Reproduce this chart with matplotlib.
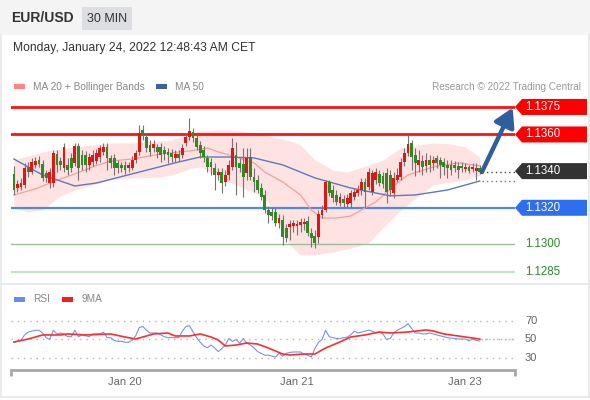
import matplotlib
matplotlib.use('Agg')
import matplotlib.pyplot as plt
from matplotlib.patches import Rectangle, Polygon
from matplotlib.lines import Line2D
import matplotlib.transforms as mtransforms
import numpy as np

plt.rcParams['font.family'] = ['Liberation Sans', 'DejaVu Sans']

# ---------------- data ----------------
opens = [1.13385, 1.13308, 1.13314, 1.13325, 1.13423, 1.13395, 1.13434, 1.13461, 1.13439, 1.13390,
         1.13335, 1.13335, 1.13494, 1.13455, 1.13417, 1.13434, 1.13472, 1.13445, 1.13537, 1.13488,
         1.13488, 1.13434, 1.13450, 1.13455, 1.13477, 1.13505, 1.13532, 1.13472, 1.13472, 1.13445,
         1.13434, 1.13434, 1.13417, 1.13417, 1.13461, 1.13505, 1.13625, 1.13586, 1.13543, 1.13526,
         1.13532, 1.13532, 1.13515, 1.13505, 1.13499, 1.13472, 1.13494, 1.13488, 1.13554, 1.13586,
         1.13614, 1.13581, 1.13543, 1.13515, 1.13472, 1.13450, 1.13417, 1.13379, 1.13395, 1.13341,
         1.13379, 1.13423, 1.13488, 1.13445, 1.13439, 1.13390, 1.13477, 1.13368, 1.13352, 1.13308,
         1.13270, 1.13188, 1.13177, 1.13177, 1.13117, 1.13134, 1.13090, 1.13095, 1.13101, 1.13101,
         1.13106, 1.13112, 1.13128, 1.13063, 1.13046, 1.13041, 1.13161, 1.13188, 1.13341, 1.13297,
         1.13270, 1.13226, 1.13248, 1.13221, 1.13226, 1.13259, 1.13281, 1.13297, 1.13341, 1.13314,
         1.13286, 1.13352, 1.13385, 1.13374, 1.13390, 1.13379, 1.13281, 1.13352, 1.13368, 1.13450,
         1.13499, 1.13554, 1.13488, 1.13434, 1.13455, 1.13428, 1.13461, 1.13445, 1.13472, 1.13461,
         1.13450, 1.13434, 1.13434, 1.13434, 1.13428, 1.13428, 1.13412, 1.13423, 1.13412, 1.13401,
         1.13417]
closes = [1.13297, 1.13330, 1.13335, 1.13417, 1.13395, 1.13450, 1.13455, 1.13439, 1.13363, 1.13363,
          1.13395, 1.13499, 1.13434, 1.13434, 1.13532, 1.13406, 1.13417, 1.13537, 1.13417, 1.13434,
          1.13434, 1.13477, 1.13488, 1.13499, 1.13526, 1.13532, 1.13472, 1.13445, 1.13417, 1.13417,
          1.13417, 1.13406, 1.13434, 1.13461, 1.13499, 1.13608, 1.13597, 1.13526, 1.13505, 1.13548,
          1.13505, 1.13488, 1.13494, 1.13488, 1.13477, 1.13494, 1.13472, 1.13526, 1.13586, 1.13619,
          1.13581, 1.13532, 1.13499, 1.13477, 1.13423, 1.13423, 1.13379, 1.13395, 1.13335, 1.13379,
          1.13434, 1.13526, 1.13423, 1.13417, 1.13368, 1.13472, 1.13368, 1.13341, 1.13297, 1.13259,
          1.13188, 1.13161, 1.13155, 1.13117, 1.13144, 1.13041, 1.13035, 1.13112, 1.13117, 1.13112,
          1.13123, 1.13123, 1.13063, 1.13035, 1.13008, 1.13166, 1.13188, 1.13341, 1.13281, 1.13254,
          1.13232, 1.13259, 1.13226, 1.13254, 1.13281, 1.13286, 1.13297, 1.13341, 1.13286, 1.13395,
          1.13390, 1.13395, 1.13335, 1.13330, 1.13286, 1.13297, 1.13363, 1.13379, 1.13450, 1.13499,
          1.13548, 1.13477, 1.13445, 1.13461, 1.13423, 1.13461, 1.13434, 1.13461, 1.13445, 1.13434,
          1.13423, 1.13417, 1.13406, 1.13417, 1.13406, 1.13417, 1.13423, 1.13401, 1.13423, 1.13417,
          1.13395]
highs = [1.13428, 1.13352, 1.13363, 1.13445, 1.13450, 1.13472, 1.13477, 1.13483, 1.13461, 1.13406,
         1.13417, 1.13515, 1.13515, 1.13477, 1.13554, 1.13472, 1.13499, 1.13554, 1.13554, 1.13515,
         1.13510, 1.13499, 1.13515, 1.13521, 1.13543, 1.13554, 1.13554, 1.13488, 1.13494, 1.13461,
         1.13450, 1.13455, 1.13450, 1.13483, 1.13515, 1.13652, 1.13652, 1.13608, 1.13570, 1.13570,
         1.13548, 1.13554, 1.13537, 1.13526, 1.13521, 1.13515, 1.13515, 1.13548, 1.13608, 1.13690,
         1.13636, 1.13603, 1.13565, 1.13537, 1.13488, 1.13472, 1.13445, 1.13417, 1.13417, 1.13406,
         1.13461, 1.13581, 1.13559, 1.13472, 1.13526, 1.13526, 1.13526, 1.13417, 1.13379, 1.13335,
         1.13297, 1.13210, 1.13199, 1.13199, 1.13166, 1.13161, 1.13112, 1.13134, 1.13134, 1.13134,
         1.13144, 1.13144, 1.13155, 1.13090, 1.13079, 1.13188, 1.13215, 1.13352, 1.13352, 1.13325,
         1.13297, 1.13281, 1.13270, 1.13275, 1.13297, 1.13308, 1.13325, 1.13363, 1.13363, 1.13417,
         1.13406, 1.13417, 1.13406, 1.13395, 1.13417, 1.13406, 1.13395, 1.13417, 1.13472, 1.13526,
         1.13597, 1.13570, 1.13526, 1.13515, 1.13488, 1.13499, 1.13488, 1.13483, 1.13488, 1.13477,
         1.13472, 1.13461, 1.13461, 1.13455, 1.13450, 1.13450, 1.13445, 1.13434, 1.13445, 1.13445,
         1.13434]
lows = [1.13270, 1.13286, 1.13297, 1.13308, 1.13368, 1.13385, 1.13417, 1.13423, 1.13346, 1.13341,
        1.13308, 1.13314, 1.13395, 1.13406, 1.13395, 1.13379, 1.13395, 1.13428, 1.13352, 1.13406,
        1.13395, 1.13406, 1.13428, 1.13439, 1.13450, 1.13488, 1.13406, 1.13417, 1.13379, 1.13390,
        1.13395, 1.13385, 1.13395, 1.13406, 1.13445, 1.13488, 1.13570, 1.13505, 1.13483, 1.13505,
        1.13472, 1.13450, 1.13461, 1.13445, 1.13450, 1.13450, 1.13455, 1.13472, 1.13537, 1.13570,
        1.13559, 1.13515, 1.13472, 1.13450, 1.13395, 1.13379, 1.13297, 1.13352, 1.13281, 1.13319,
        1.13352, 1.13406, 1.13270, 1.13395, 1.13259, 1.13352, 1.13352, 1.13286, 1.13281, 1.13243,
        1.13172, 1.13117, 1.13134, 1.13101, 1.13090, 1.12997, 1.13014, 1.13025, 1.13068, 1.13052,
        1.13068, 1.13079, 1.13046, 1.12986, 1.12981, 1.13008, 1.13144, 1.13177, 1.13265, 1.13232,
        1.13215, 1.13210, 1.13205, 1.13205, 1.13205, 1.13243, 1.13265, 1.13270, 1.13199, 1.13297,
        1.13270, 1.13330, 1.13319, 1.13308, 1.13226, 1.13265, 1.13254, 1.13341, 1.13352, 1.13428,
        1.13483, 1.13406, 1.13374, 1.13395, 1.13379, 1.13395, 1.13395, 1.13406, 1.13417, 1.13363,
        1.13379, 1.13363, 1.13379, 1.13395, 1.13363, 1.13395, 1.13395, 1.13390, 1.13395, 1.13352,
        1.13385]

ma20_idx = [0, 6, 10, 17, 22, 27, 33, 41, 49, 54, 57, 62, 67, 70, 75, 80, 83, 86, 90, 94, 97,
            101, 106, 110, 117, 124, 130]
ma20_val = [1.13270, 1.13303, 1.13335, 1.13385, 1.13423, 1.13455, 1.13466, 1.13494, 1.13510, 1.13526,
            1.13505, 1.13477, 1.13445, 1.13395, 1.13341, 1.13270, 1.13188, 1.13144, 1.13144, 1.13155,
            1.13188, 1.13232, 1.13319, 1.13379, 1.13423, 1.13445, 1.13428]
ma50_idx = [0, 8, 17, 23, 33, 46, 52, 60, 67, 75, 84, 94, 105, 112, 121, 130]
ma50_val = [1.13466, 1.13379, 1.13319, 1.13335, 1.13385, 1.13450, 1.13477, 1.13477, 1.13472, 1.13434,
            1.13363, 1.13308, 1.13265, 1.13270, 1.13297, 1.13346]
band_idx = [0, 4, 8, 13, 17, 22, 27, 33, 41, 44, 48, 50, 52, 57, 60, 67, 71, 75, 77, 80, 84, 89,
            93, 99, 103, 108, 113, 117, 122, 126, 130]
band_upper = [1.13461, 1.13483, 1.13505, 1.13521, 1.13532, 1.13543, 1.13554, 1.13554, 1.13565, 1.13570,
              1.13597, 1.13614, 1.13619, 1.13625, 1.13625, 1.13608, 1.13592, 1.13575, 1.13565, 1.13543,
              1.13461, 1.13406, 1.13395, 1.13434, 1.13461, 1.13526, 1.13543, 1.13554, 1.13548, 1.13532,
              1.13477]
band_lower = [1.13199, 1.13177, 1.13188, 1.13265, 1.13297, 1.13325, 1.13352, 1.13363, 1.13368, 1.13379,
              1.13406, 1.13417, 1.13423, 1.13374, 1.13341, 1.13286, 1.13232, 1.13079, 1.12997, 1.12943,
              1.12943, 1.12959, 1.12975, 1.13008, 1.13090, 1.13188, 1.13265, 1.13325, 1.13341, 1.13352,
              1.13379]

rsi = [47, 48, 49.5, 55, 58, 59, 60, 60, 57, 52,
       50, 60, 56, 57, 56, 53, 53, 60, 53, 55,
       54, 53, 56, 56, 56, 58, 52, 52, 49, 48,
       48, 47, 47, 49, 54, 63, 64, 60, 57, 57,
       57, 55, 53, 52, 52, 52, 52, 59, 64, 65,
       58, 52, 47, 43, 41, 44, 41, 37, 40, 44,
       51, 48, 50, 46, 51, 46, 44, 41, 37, 35,
       33, 33, 32, 31, 35, 32, 35, 36, 36.5, 36.5,
       36.5, 34, 33, 31, 40, 47, 50, 60, 53, 52,
       51, 51, 52, 52.5, 55, 59, 57, 58, 59, 60,
       59, 57, 58, 56, 50, 51, 57, 60, 62, 64,
       67, 62, 57, 57, 56, 56, 57, 56, 55, 54,
       53, 52, 51.5, 51, 50.5, 50.5, 50.5, 48.5, 50.5, 49,
       48.5]
ma9_idx = [0, 4, 8, 13, 15, 20, 27, 31, 34, 39, 43, 45, 49, 52, 55, 57, 59, 62, 65, 68,
           71, 75, 77, 81, 84, 87, 91, 94, 98, 102, 105, 110, 115, 117, 120, 124, 128, 130]
ma9_val = [47.3, 50.5, 54.9, 54.9, 56, 54.9, 56, 52.7, 50.5, 56, 57, 53.8, 53.8, 56, 52.7, 49.5, 43, 44,
           46.2, 45.1, 40.8, 34.3, 33.2, 34.3, 34.3, 40.8, 47.3, 52.7, 54.9, 58.1, 57, 58.1, 60.3, 59.2,
           56, 53.8, 51.6, 50.5]

levels = [1.1375, 1.1360, 1.1340, 1.1320, 1.1300, 1.1285]
level_labels = ['1.1375', '1.1360', '1.1340', '1.1320', '1.1300', '1.1285']
rsi_levels = [70, 50, 30]
tick_idx = [31, 79, 126]
tick_labels = ['Jan 20', 'Jan 21', 'Jan 23']

# ---------------- figure ----------------
W, H = 590, 400
fig = plt.figure(figsize=(W / 100, H / 100), dpi=100)
fig.patch.set_facecolor('white')


def fx(px):
    return px / W


def fy(py):
    return 1 - py / H


# header band
fig.add_artist(Rectangle((0, fy(35)), 1, 35 / H, transform=fig.transFigure,
                         facecolor='#f4f4f4', edgecolor='none', zorder=0))
fig.add_artist(Rectangle((fx(82), fy(30)), 50 / W, 23 / H, transform=fig.transFigure,
                         facecolor='#dcdee2', edgecolor='none', zorder=1))
fig.text(fx(11), fy(18.5), 'EUR/USD', fontsize=10, fontweight='bold', color='#333333', va='center')
fig.text(fx(107), fy(19), '30 MIN', fontsize=9, color='#333333', va='center', ha='center')
fig.text(fx(13), fy(48), 'Monday, January 24, 2022 12:48:43 AM CET', fontsize=8.7,
         color='#333333', va='center')

# frame lines
for (x0, y0, x1, y1) in [(1, 35, 1, 397), (588.5, 35, 588.5, 397), (1, 397, 588.5, 397), (1, 283.5, 588.5, 283.5)]:
    fig.add_artist(Line2D([fx(x0), fx(x1)], [fy(y0), fy(y1)], transform=fig.transFigure,
                          color='#e6e8ea', lw=1.2))

# main legend
fig.add_artist(Rectangle((fx(14), fy(89)), 11 / W, 5 / H, transform=fig.transFigure,
                         facecolor='#ff8585', edgecolor='none'))
fig.text(fx(33), fy(86.5), 'MA 20 + Bollinger Bands', fontsize=7.3, color='#888888', va='center')
fig.add_artist(Rectangle((fx(156), fy(89)), 11 / W, 5 / H, transform=fig.transFigure,
                         facecolor='#3d609f', edgecolor='none'))
fig.text(fx(175), fy(86.5), 'MA 50', fontsize=7.3, color='#888888', va='center')
fig.text(fx(581), fy(86.5), 'Research \u00a9 2022 Trading Central', fontsize=7.2, color='#9a9a9a',
         va='center', ha='right')

# ---------------- main price axes ----------------
xl = (-0.81, 139.85)
ax = fig.add_axes([fx(11), fy(280), 504 / W, 180 / H])
ax.set_xlim(*xl)
ax.set_ylim(1.12806, 1.13788)
ax.axis('off')

idx = np.arange(len(closes))
ax.fill_between(band_idx, band_lower, band_upper, color='#ffe2e2', lw=0, zorder=0.5)

line_styles = [('#ff1010', 2.0), ('#ff1010', 2.0), None, ('#4d88f0', 1.6), ('#9cbc9c', 1.0), ('#b6dcb6', 1.2)]
for lev, st in zip(levels, line_styles):
    if st is not None:
        ax.axhline(lev, color=st[0], lw=st[1], zorder=1)

ax.plot(ma20_idx, ma20_val, color='#ff9a9a', lw=0.9, zorder=2)
ax.plot(ma50_idx, ma50_val, color='#5a7bbd', lw=1.0, zorder=2)

o = np.array(opens)
c = np.array(closes)
cols = np.where(c > o, '#e01515', '#2f8a25')
ax.vlines(idx, lows, highs, color='#7e7070', lw=0.8, zorder=3)
ax.bar(idx, c - o, bottom=o, width=0.78, color=cols, linewidth=0, zorder=4)

# dotted projections
last = idx[-1]
ax.plot([last + 0.6, xl[1]], [closes[-1], closes[-1]], ls=(0, (1, 2.2)), color='#444444', lw=1, zorder=2)
ax.plot([last + 0.6, xl[1]], [ma50_val[-1], ma50_val[-1]], ls=(0, (1, 2.2)), color='#5a7bbd', lw=1, zorder=2)

# arrow to the target
ax.annotate('', xy=(139.2, levels[0] - 0.00004), xytext=(last + 0.6, closes[-1]),
            arrowprops=dict(arrowstyle='-|>,head_length=0.55,head_width=0.32', color='#2f5e9e',
                            lw=3.2, shrinkA=0, shrinkB=0, mutation_scale=20),
            annotation_clip=False, zorder=6)

# right-side level labels
blend = mtransforms.blended_transform_factory(fig.transFigure, ax.transData)
hh = 8 * (1.13788 - 1.12806) / 180
box_cols = ['#ff0000', '#ff0000', '#333333', '#2d6ff0', None, None]
for lev, lab, bc in zip(levels, level_labels, box_cols):
    if bc is not None:
        poly = Polygon([(fx(515), lev), (fx(522), lev + hh), (fx(587), lev + hh),
                        (fx(587), lev - hh), (fx(522), lev - hh)], closed=True,
                       transform=blend, facecolor=bc, edgecolor='none', clip_on=False)
        ax.add_patch(poly)
        ax.text(fx(525), lev, lab, transform=blend, color='white', fontsize=8.3,
                va='center', ha='left', clip_on=False)
    else:
        ax.text(fx(525), lev, lab, transform=blend, color='#2a8a2a', fontsize=8.3,
                va='center', ha='left', clip_on=False)

# ---------------- RSI axes ----------------
fig.add_artist(Rectangle((fx(14), fy(301.5)), 11 / W, 5 / H, transform=fig.transFigure,
                         facecolor='#6b8cef', edgecolor='none'))
fig.text(fx(33), fy(299), 'RSI', fontsize=7.3, color='#888888', va='center')
fig.add_artist(Rectangle((fx(62), fy(301.5)), 11 / W, 5 / H, transform=fig.transFigure,
                         facecolor='#ff1a1a', edgecolor='none'))
fig.text(fx(82), fy(299), '9MA', fontsize=7.3, color='#888888', va='center')

ax_r = fig.add_axes([fx(11), fy(370), 504 / W, 65 / H])
ax_r.set_xlim(*xl)
ax_r.set_ylim(17, 87.3)
for s in ['left', 'right', 'top']:
    ax_r.spines[s].set_visible(False)
ax_r.spines['bottom'].set_color('#a8a8a8')
ax_r.spines['bottom'].set_linewidth(2)
ax_r.set_yticks([])
ax_r.set_xticks(tick_idx)
ax_r.set_xticklabels(tick_labels)
ax_r.tick_params(axis='x', length=0, labelsize=8, labelcolor='#666666', pad=5)
ax_r.patch.set_alpha(0)
for xe in [0, 1]:
    ax_r.plot([xe, xe], [0, -0.09], transform=ax_r.transAxes, color='#a8a8a8', lw=2,
              clip_on=False, solid_capstyle='butt')

for lev in rsi_levels:
    ax_r.axhline(lev, color='#b5b5b5', lw=1, ls=(0, (1, 3.5)), zorder=1)
ax_r.plot(idx, rsi, color='#7393ee', lw=0.8, zorder=2)
ax_r.plot(ma9_idx, ma9_val, color='#ff2d2d', lw=1.2, zorder=3)
ax_r.plot([last + 0.3, xl[1]], [rsi_levels[1], rsi_levels[1]], ls=(0, (1, 1.8)), color='#9fb4f0', lw=1, zorder=2)

rblend = mtransforms.blended_transform_factory(fig.transFigure, ax_r.transData)
for lev in rsi_levels:
    ax_r.text(fx(525), lev, str(lev), transform=rblend, fontsize=8, color='#666666',
              va='center', ha='left', clip_on=False)

fig.savefig('out.png', dpi=100)
